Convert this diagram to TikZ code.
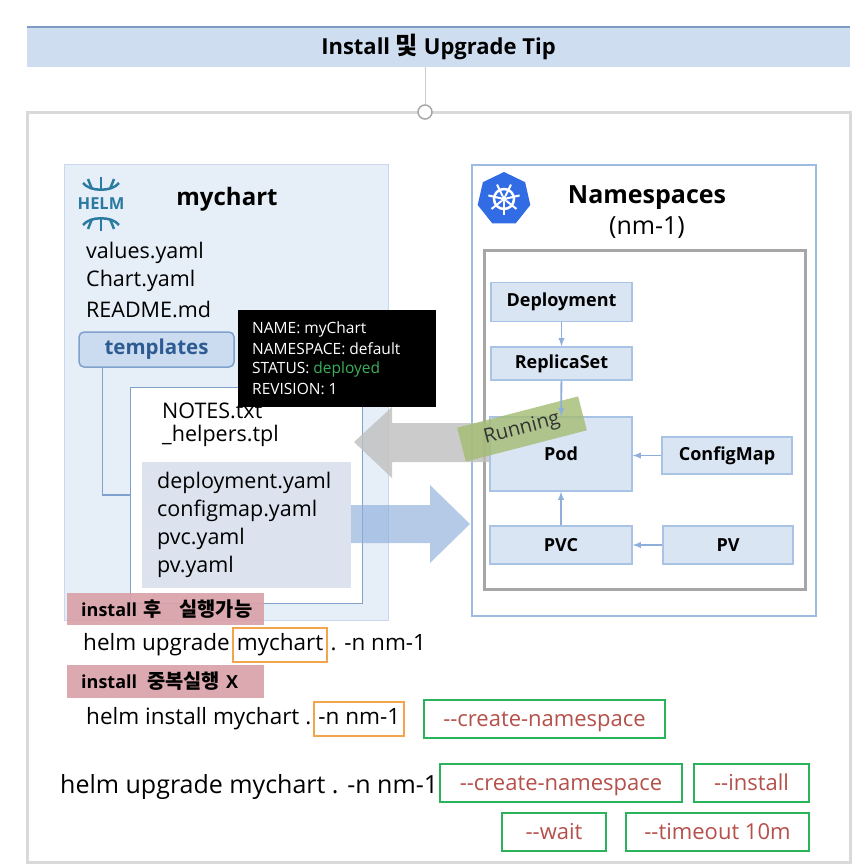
\documentclass[tikz,border=0pt]{standalone}
\usepackage{fontspec}
\setmainfont{Open Sans}
\newfontfamily\krfont{Noto Sans CJK KR}[Scale=1.1]
\usetikzlibrary{positioning,shapes.geometric}

\definecolor{hdrfill}{HTML}{CFDDF1}
\definecolor{hdrline}{HTML}{7C9CC4}
\definecolor{framegray}{HTML}{D9D9D9}
\definecolor{chartfill}{HTML}{E6EEF8}
\definecolor{chartline}{HTML}{C9D8EC}
\definecolor{tplfill}{HTML}{CBDBF0}
\definecolor{tplline}{HTML}{7FA1CC}
\definecolor{tpltext}{HTML}{2E5B92}
\definecolor{yamlfill}{HTML}{DCE3EE}
\definecolor{nsline}{HTML}{9EBCE2}
\definecolor{kfill}{HTML}{DAE5F4}
\definecolor{kline}{HTML}{A9C3E4}
\definecolor{karrow}{HTML}{8EAFDB}
\definecolor{helmblue}{HTML}{2B7BA0}
\definecolor{k8sblue}{HTML}{326CE5}
\definecolor{okgreen}{HTML}{3BAF5B}
\definecolor{runfill}{HTML}{A3BC72}
\definecolor{pinkfill}{HTML}{DAA0A8}
\definecolor{orng}{HTML}{F2A54A}
\definecolor{grn}{HTML}{2BB35C}
\definecolor{flagred}{HTML}{B5504B}

\newcommand\pxsize[1]{\fontsize{#1}{#1}\selectfont}

\tikzset{
  file/.style={anchor=west, inner sep=0pt, font=\pxsize{21.5}},
  kbox/.style={draw=kline, fill=kfill, line width=1.5pt, inner sep=0pt,
    font=\bfseries\pxsize{18}},
  karr/.style={-latex, draw=karrow, line width=1.8pt},
  tipline/.style={anchor=west, inner sep=0pt, text=white, font=\pxsize{15.5}},
  cmd/.style={inner xsep=2pt, inner ysep=0pt, text height=15pt, text depth=5pt,
    font=\pxsize{22.5}},
  obox/.style={draw=orng, line width=2pt, inner xsep=4pt, inner ysep=7pt},
  flag/.style={draw=grn, line width=2.5pt, text=flagred, inner sep=0pt,
    minimum height=38pt, text height=19pt, text depth=5pt, font=\pxsize{22}},
  pink/.style={fill=pinkfill, fill opacity=0.9, text opacity=1, anchor=west,
    inner xsep=14pt, inner ysep=0pt, text width=169pt, align=left,
    font=\bfseries\pxsize{18}},
}

\begin{document}
\begin{tikzpicture}[x=1pt,y=-1pt]
  \useasboundingbox (0,0) rectangle (865,867);
  \fill[white] (0,0) rectangle (865,867);

  % frame and title
  \draw[framegray, line width=3pt] (27,112) rectangle (850,862);
  \node[fill=hdrfill, minimum width=823pt, minimum height=40pt, inner sep=0pt,
    font=\bfseries\pxsize{22}] (hdr) at (438.5,47) {Install {\krfont 및} Upgrade Tip};
  \draw[hdrline, line width=2.5pt] (hdr.north west) -- (hdr.north east);
  \node[circle, draw=gray!70, fill=white, line width=1.5pt, minimum size=14pt,
    inner sep=0pt] (hub) at (425,112) {};
  \draw[gray!40] (hub.north |- hdr.south) -- (hub.north);

  % helm chart
  \node[draw=chartline, fill=chartfill, line width=1.2pt, minimum width=324pt,
    minimum height=456pt, anchor=north west] (chart) at (64,164) {};
  \node[text=helmblue, inner sep=0pt, font=\bfseries\pxsize{16.5}] (helm) at (101,204) {HELM};
  \begin{scope}[helmblue, line width=2.5pt]
    \draw (83,183) .. controls (90,192) and (112,192) .. (119,183);
    \draw (101,190) -- (101,177);
    \draw (92,189) -- (88,179);
    \draw (110,189) -- (114,179);
    \draw (83,225) .. controls (90,216) and (112,216) .. (119,225);
    \draw (101,218) -- (101,231);
    \draw (92,219) -- (88,229);
    \draw (110,219) -- (114,229);
  \end{scope}
  \node[inner sep=0pt, font=\bfseries\pxsize{24}] (chartname) at (227,199) {mychart};
  \foreach \f [count=\i] in {values.yaml, Chart.yaml, README.md}
    \node[file] (top\i) at (86,225+28*\i) {\f};

  \node[draw=tplline, fill=tplfill, line width=1.5pt, rounded corners=5pt,
    minimum width=155pt, minimum height=35pt, inner sep=0pt, text=tpltext,
    font=\bfseries\pxsize{20.5}] (tpl) at (156.5,349.5) {templates};
  \node[draw=tplline, fill=white, line width=1.2pt, minimum width=232pt,
    minimum height=216pt, anchor=north west] (inner) at (130,387) {};
  \draw[tplline, line width=1.5pt] ([xshift=24pt]tpl.south west) |- (inner.west |- 0,495);
  \node[file] (notes) at (162,411) {NOTES.txt};
  \node[file] (helpers) at (162,436) {\_helpers.tpl};
  \node[fill=yamlfill, minimum width=209pt, minimum height=126pt, inner sep=0pt,
    anchor=north west] (ymlbox) at (142,462) {};
  \foreach \f [count=\i] in {deployment.yaml, configmap.yaml, pvc.yaml, pv.yaml}
    \node[file] (yml\i) at (157,455+28*\i) {\f};

  % release info
  \node[fill=black, minimum width=198pt, minimum height=97pt, inner sep=0pt,
    anchor=north west] (tipbox) at (238,310) {};
  \node[tipline] (tip1) at (252,329) {NAME: myChart};
  \node[tipline] (tip2) at (252,349) {NAMESPACE: default};
  \node[tipline] (tip3) at (252,369) {STATUS: \textcolor{okgreen}{deployed}};
  \node[tipline] (tip4) at (252,389) {REVISION: 1};

  % namespace
  \node[draw=nsline, fill=white, line width=2pt, minimum width=344pt,
    minimum height=451pt, anchor=north west] (ns) at (471,164) {};
  \node[regular polygon, regular polygon sides=7, fill=k8sblue, minimum size=54pt,
    inner sep=0pt] (k8s) at (504,199) {};
  \draw[white, line width=2.5pt] (k8s.center) circle (10);
  \foreach \a in {0,...,6}
    \draw[white, line width=2pt] (k8s.center) ++(90+\a*360/7:3) -- ++(90+\a*360/7:13);
  \fill[white] (k8s.center) circle (3);
  \node[inner sep=0pt, font=\bfseries\pxsize{25}] (nsname) at (647,198) {Namespaces};
  \node[inner sep=0pt, font=\pxsize{25}] (nsid) at (647,228) {(nm-1)};
  \node[draw=gray!70, fill=white, line width=2.5pt, minimum width=321pt,
    minimum height=339pt, anchor=north west] (objs) at (483,249) {};

  % big arrows
  \fill[gray!50, opacity=0.8] (354,442) -- (392,407) -- (392,423) -- (490,423)
    -- (490,462) -- (392,462) -- (392,478) -- cycle;
  \fill[karrow, opacity=0.65] (351,505) -- (430,505) -- (430,485) -- (470,524)
    -- (430,563) -- (430,543) -- (351,543) -- cycle;

  % objects
  \node[kbox, minimum width=141pt, minimum height=39pt] (deploy) at (561.5,302) {Deployment};
  \node[kbox, minimum width=141pt, minimum height=33pt] (replica) at (561.5,363.5) {ReplicaSet};
  \node[kbox, minimum width=142pt, minimum height=74pt] (pod) at (561,454) {Pod};
  \node[kbox, minimum width=130pt, minimum height=37pt] (cmap) at (727,455.5) {ConfigMap};
  \node[kbox, minimum width=142pt, minimum height=38pt] (pvc) at (561,545) {PVC};
  \node[kbox, minimum width=130pt, minimum height=38pt] (pv) at (728,545) {PV};
  \node[fill=runfill, fill opacity=0.8, text opacity=1, text=black!80, rotate=14.5,
    minimum width=125pt, minimum height=35pt, inner sep=0pt,
    font=\pxsize{20}] (run) at (522,429) {Running};
  \draw[karr] (deploy) -- (replica);
  \draw[karr] (replica) -- (pod);
  \draw[karr] (cmap.west) -- (cmap.west -| pod.east);
  \draw[karr] (pvc) -- (pod);
  \draw[karr] (pv) -- (pvc);

  % commands
  \node[pink, minimum height=32pt] (note1) at (67,609)
    {\mbox{install {\krfont 후}\hspace{18pt}{\krfont 실행가능}}};
  \node[cmd, anchor=base west] (up1) at (81,650) {helm upgrade};
  \node[cmd, obox, base right=0pt of up1] (up1name) {mychart};
  \node[cmd, base right=0pt of up1name] (up1rest) {. -n nm-1};

  \node[pink, minimum height=33pt] (note2) at (67,681.5)
    {\mbox{install\hspace{10pt}{\krfont 중복실행} X}};
  \node[cmd, anchor=base west] (in1) at (84,724) {helm install mychart .};
  \node[cmd, obox, base right=0pt of in1] (in1ns) {-n nm-1};
  \node[flag, minimum width=241pt] (in1flag) at (544.5,719) {-{}-create-namespace};

  \node[cmd, anchor=base west, font=\pxsize{25}] (up2) at (58,793) {helm upgrade mychart . -n nm-1};
  \node[flag, minimum width=242pt] (flag1) at (561,783) {-{}-create-namespace};
  \node[flag, minimum width=115pt] (flag2) at (751.5,783) {-{}-install};
  \node[flag, minimum width=104pt] (flag3) at (554,832) {-{}-wait};
  \node[flag, minimum width=183pt] (flag4) at (717.5,832) {-{}-timeout 10m};
\end{tikzpicture}
\end{document}
